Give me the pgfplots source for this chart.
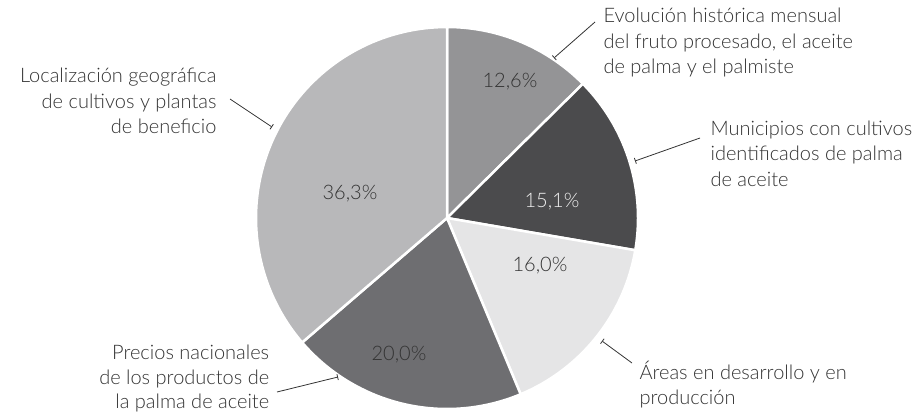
\documentclass[border=0pt]{standalone}
\usepackage{pgfplots}
\pgfplotsset{compat=1.18}
\usepackage{fontspec}
\setmainfont{Lato}[UprightFont=* Light]
\usetikzlibrary{arrows.meta}

\definecolor{sA}{HTML}{949496}
\definecolor{sB}{HTML}{4B4B4D}
\definecolor{sC}{HTML}{E5E5E6}
\definecolor{sD}{HTML}{6E6E71}
\definecolor{sE}{HTML}{B8B8BA}
\definecolor{txt}{HTML}{333333}

% shares in percent, clockwise from the top
\def\vA{12.6}
\def\vB{15.1}
\def\vC{16.0}
\def\vD{20.0}
\def\vE{36.3}
\pgfmathsetmacro\tA{90}
\pgfmathsetmacro\tB{\tA-3.6*\vA}
\pgfmathsetmacro\tC{\tB-3.6*\vB}
\pgfmathsetmacro\tD{\tC-3.6*\vC}
\pgfmathsetmacro\tE{\tD-3.6*\vD}
\pgfmathsetmacro\tF{\tE-3.6*\vE}

\newcommand{\lbl}{\fontsize{20}{25}\selectfont\color{txt}}

\begin{document}
\begin{tikzpicture}
\begin{axis}[
  x=1pt, y=1pt,
  xmin=0, xmax=915, ymin=0, ymax=413,
  hide axis, clip=false,
  every axis plot/.append style={draw=white, line width=2.5pt, samples=80, line join=round},
]
\addplot[fill=sA, domain=\tB:\tA] ({447+191*cos(x)},{195+191*sin(x)}) -- (447,195) -- cycle;
\addplot[fill=sB, domain=\tC:\tB] ({447+191*cos(x)},{195+191*sin(x)}) -- (447,195) -- cycle;
\addplot[fill=sC, domain=\tD:\tC] ({447+191*cos(x)},{195+191*sin(x)}) -- (447,195) -- cycle;
\addplot[fill=sD, domain=\tE:\tD] ({447+191*cos(x)},{195+191*sin(x)}) -- (447,195) -- cycle;
\addplot[fill=sE, domain=\tF:\tE] ({447+191*cos(x)},{195+191*sin(x)}) -- (447,195) -- cycle;

% percentages
\node[font=\lbl] at (510,331) {12,6\%};
\node[font=\lbl, text=white!94!black] at (552,211) {15,1\%};
\node[font=\lbl] at (540,147) {16,0\%};
\node[font=\lbl] at (399,58) {20,0\%};
\node[font=\lbl] at (350,219) {36,3\%};

% leader lines
\begin{scope}[draw=txt, line width=0.8pt, -{Bar[width=6pt,line width=0.8pt]}]
\draw (595,391) -- (554,355);
\draw (700,275) -- (635,252);
\draw (632,50) -- (602,72);
\draw (277,21) -- (338,36);
\draw (230,314) -- (272,286);
\end{scope}

% category labels
\node[font=\lbl, anchor=base west] at (600,390.3) {Evolución histórica mensual};
\node[font=\lbl, anchor=base west] at (600,364.5) {del fruto procesado, el aceite};
\node[font=\lbl, anchor=base west] at (600,339) {de palma y el palmiste};

\node[font=\lbl, anchor=base west] at (707,277) {Municipios con cultivos};
\node[font=\lbl, anchor=base west] at (707,252) {identificados de palma};
\node[font=\lbl, anchor=base west] at (707,227) {de aceite};

\node[font=\lbl, anchor=base west] at (636,33.7) {Áreas en desarrollo y en};
\node[font=\lbl, anchor=base west] at (636,9) {producción};

\node[font=\lbl, anchor=base east] at (272.7,53.5) {Precios nacionales};
\node[font=\lbl, anchor=base east] at (272.7,28.5) {de los productos de};
\node[font=\lbl, anchor=base east] at (272.7,4.5) {la palma de aceite};

\node[font=\lbl, anchor=base east] at (220,330.3) {Localización geográfica};
\node[font=\lbl, anchor=base east] at (220,304.7) {de cultivos y plantas};
\node[font=\lbl, anchor=base east] at (220,279.5) {de beneficio};
\end{axis}
\pgfresetboundingbox
\path[use as bounding box] (current axis.south west) rectangle (current axis.north east);
\end{tikzpicture}
\end{document}
